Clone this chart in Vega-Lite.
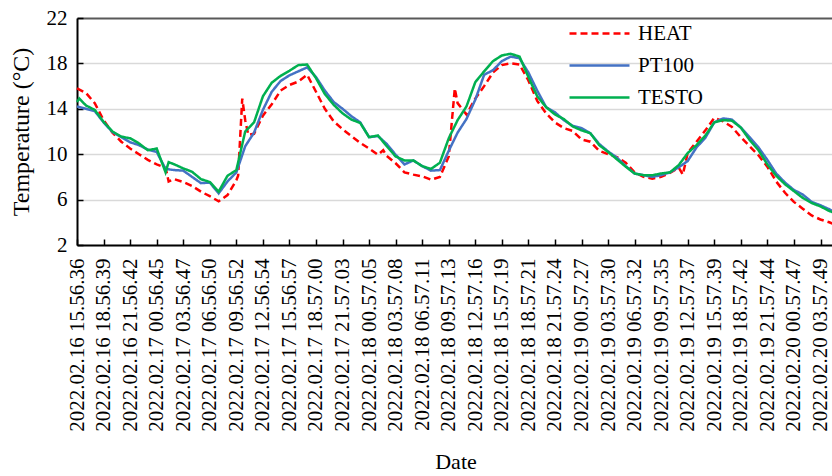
{
  "$schema": "https://vega.github.io/schema/vega-lite/v6.json",
  "width": 757,
  "height": 227,
  "autosize": {"type": "none"},
  "padding": {"left": 77, "top": 18, "right": 0, "bottom": 231},
  "background": "white",
  "config": {
    "view": {"stroke": null},
    "font": "Liberation Serif"
  },
  "data": {
    "values": [
      {"t": "2022-02-16T15:56:36", "HEAT": 15.8, "PT100": 14.2, "TESTO": 14.6},
      {"t": "2022-02-16T16:12:00", "TESTO": 14.9},
      {"t": "2022-02-16T16:57:00", "HEAT": 15.4, "PT100": 14.0, "TESTO": 14.3},
      {"t": "2022-02-16T17:57:00", "HEAT": 14.5, "PT100": 13.8, "TESTO": 13.9},
      {"t": "2022-02-16T18:57:00", "HEAT": 13.0, "PT100": 12.8, "TESTO": 12.85},
      {"t": "2022-02-16T19:57:00", "HEAT": 11.9, "PT100": 11.95, "TESTO": 12.0},
      {"t": "2022-02-16T20:57:00", "HEAT": 11.1, "PT100": 11.5, "TESTO": 11.55},
      {"t": "2022-02-16T21:57:00", "HEAT": 10.5, "PT100": 11.05, "TESTO": 11.4},
      {"t": "2022-02-16T22:57:00", "HEAT": 10.0, "PT100": 10.8, "TESTO": 10.95},
      {"t": "2022-02-16T23:57:00", "HEAT": 9.5, "PT100": 10.4, "TESTO": 10.35},
      {"t": "2022-02-17T00:57:00", "HEAT": 9.1, "PT100": 10.2, "TESTO": 10.5},
      {"t": "2022-02-17T01:57:00", "HEAT": 8.8, "PT100": 8.7, "TESTO": 8.4},
      {"t": "2022-02-17T02:18:00", "HEAT": 7.6, "TESTO": 9.3},
      {"t": "2022-02-17T02:57:00", "HEAT": 7.8, "PT100": 8.6, "TESTO": 9.1},
      {"t": "2022-02-17T03:57:00", "HEAT": 7.55, "PT100": 8.55, "TESTO": 8.75},
      {"t": "2022-02-17T04:57:00", "HEAT": 7.2, "PT100": 8.0, "TESTO": 8.45},
      {"t": "2022-02-17T05:57:00", "HEAT": 6.7, "PT100": 7.45, "TESTO": 7.8},
      {"t": "2022-02-17T06:57:00", "HEAT": 6.3, "PT100": 7.5, "TESTO": 7.55},
      {"t": "2022-02-17T07:57:00", "HEAT": 5.85, "PT100": 6.55, "TESTO": 6.7},
      {"t": "2022-02-17T08:57:00", "HEAT": 6.4, "PT100": 7.6, "TESTO": 8.1},
      {"t": "2022-02-17T09:57:00", "HEAT": 7.7, "PT100": 8.4, "TESTO": 8.6},
      {"t": "2022-02-17T10:09:00", "HEAT": 8.1},
      {"t": "2022-02-17T10:37:00", "HEAT": 14.9},
      {"t": "2022-02-17T10:57:00", "HEAT": 13.0, "PT100": 10.7, "TESTO": 12.0},
      {"t": "2022-02-17T11:18:00", "HEAT": 11.7},
      {"t": "2022-02-17T11:57:00", "HEAT": 11.8, "PT100": 11.9, "TESTO": 12.8},
      {"t": "2022-02-17T12:57:00", "HEAT": 13.4, "PT100": 13.9, "TESTO": 15.1},
      {"t": "2022-02-17T13:57:00", "HEAT": 14.4, "PT100": 15.5, "TESTO": 16.3},
      {"t": "2022-02-17T14:57:00", "HEAT": 15.6, "PT100": 16.45, "TESTO": 16.9},
      {"t": "2022-02-17T15:57:00", "HEAT": 16.1, "PT100": 16.95, "TESTO": 17.35},
      {"t": "2022-02-17T16:57:00", "HEAT": 16.4, "PT100": 17.3, "TESTO": 17.85},
      {"t": "2022-02-17T17:57:00", "HEAT": 17.0, "PT100": 17.65, "TESTO": 17.9},
      {"t": "2022-02-17T18:57:00", "HEAT": 15.5, "PT100": 16.8, "TESTO": 16.7},
      {"t": "2022-02-17T19:57:00", "HEAT": 14.0, "PT100": 15.6, "TESTO": 15.3},
      {"t": "2022-02-17T20:57:00", "HEAT": 12.9, "PT100": 14.6, "TESTO": 14.35},
      {"t": "2022-02-17T21:57:00", "HEAT": 12.2, "PT100": 14.0, "TESTO": 13.6},
      {"t": "2022-02-17T22:57:00", "HEAT": 11.6, "PT100": 13.35, "TESTO": 13.05},
      {"t": "2022-02-17T23:57:00", "HEAT": 11.0, "PT100": 12.8, "TESTO": 12.75},
      {"t": "2022-02-18T00:57:00", "HEAT": 10.5, "PT100": 11.5, "TESTO": 11.5},
      {"t": "2022-02-18T01:57:00", "HEAT": 9.95, "PT100": 11.6, "TESTO": 11.65},
      {"t": "2022-02-18T02:33:00", "HEAT": 10.35},
      {"t": "2022-02-18T02:57:00", "HEAT": 9.85, "PT100": 10.9, "TESTO": 10.7},
      {"t": "2022-02-18T03:57:00", "HEAT": 9.2, "PT100": 9.95, "TESTO": 9.8},
      {"t": "2022-02-18T04:57:00", "HEAT": 8.4, "PT100": 9.1, "TESTO": 9.45},
      {"t": "2022-02-18T05:57:00", "HEAT": 8.2, "PT100": 9.45, "TESTO": 9.45},
      {"t": "2022-02-18T06:57:00", "HEAT": 8.05, "PT100": 8.95, "TESTO": 8.95},
      {"t": "2022-02-18T07:57:00", "HEAT": 7.75, "PT100": 8.55, "TESTO": 8.7},
      {"t": "2022-02-18T08:57:00", "HEAT": 8.0, "PT100": 8.6, "TESTO": 9.25},
      {"t": "2022-02-18T09:57:00", "HEAT": 9.8, "PT100": 10.3, "TESTO": 11.4},
      {"t": "2022-02-18T10:38:00", "HEAT": 15.8},
      {"t": "2022-02-18T10:57:00", "HEAT": 14.5, "PT100": 11.9, "TESTO": 13.0},
      {"t": "2022-02-18T11:57:00", "HEAT": 13.5, "PT100": 13.1, "TESTO": 14.2},
      {"t": "2022-02-18T12:57:00", "HEAT": 14.9, "PT100": 14.8, "TESTO": 16.35},
      {"t": "2022-02-18T13:57:00", "HEAT": 16.0, "PT100": 17.0, "TESTO": 17.3},
      {"t": "2022-02-18T14:57:00", "HEAT": 17.2, "PT100": 17.4, "TESTO": 18.2},
      {"t": "2022-02-18T15:57:00", "HEAT": 17.85, "PT100": 18.2, "TESTO": 18.7},
      {"t": "2022-02-18T16:57:00", "HEAT": 18.0, "PT100": 18.6, "TESTO": 18.85},
      {"t": "2022-02-18T17:57:00", "HEAT": 17.9, "PT100": 18.45, "TESTO": 18.6},
      {"t": "2022-02-18T18:57:00", "HEAT": 16.5, "PT100": 17.2, "TESTO": 16.8},
      {"t": "2022-02-18T19:57:00", "HEAT": 14.7, "PT100": 15.6, "TESTO": 15.1},
      {"t": "2022-02-18T20:57:00", "HEAT": 13.6, "PT100": 14.15, "TESTO": 14.15},
      {"t": "2022-02-18T21:57:00", "HEAT": 12.8, "PT100": 13.7, "TESTO": 13.5},
      {"t": "2022-02-18T22:57:00", "HEAT": 12.3, "PT100": 13.0, "TESTO": 13.1},
      {"t": "2022-02-18T23:57:00", "HEAT": 12.05, "PT100": 12.5, "TESTO": 12.45},
      {"t": "2022-02-19T00:57:00", "HEAT": 11.3, "PT100": 12.3, "TESTO": 12.1},
      {"t": "2022-02-19T01:57:00", "HEAT": 11.1, "PT100": 11.85, "TESTO": 11.85},
      {"t": "2022-02-19T02:57:00", "HEAT": 10.3, "PT100": 10.9, "TESTO": 10.8},
      {"t": "2022-02-19T03:57:00", "HEAT": 10.0, "PT100": 10.25, "TESTO": 10.2},
      {"t": "2022-02-19T04:57:00", "HEAT": 9.75, "PT100": 9.7, "TESTO": 9.55},
      {"t": "2022-02-19T05:57:00", "HEAT": 9.25, "PT100": 8.95, "TESTO": 8.9},
      {"t": "2022-02-19T06:57:00", "HEAT": 8.4, "PT100": 8.3, "TESTO": 8.3},
      {"t": "2022-02-19T07:57:00", "HEAT": 8.0, "PT100": 8.15, "TESTO": 8.15},
      {"t": "2022-02-19T08:57:00", "HEAT": 7.85, "PT100": 8.0, "TESTO": 8.15},
      {"t": "2022-02-19T09:57:00", "HEAT": 8.0, "PT100": 8.15, "TESTO": 8.3},
      {"t": "2022-02-19T10:57:00", "HEAT": 8.35, "PT100": 8.4, "TESTO": 8.4},
      {"t": "2022-02-19T11:57:00", "HEAT": 8.8, "PT100": 8.85, "TESTO": 9.05},
      {"t": "2022-02-19T12:24:00", "HEAT": 8.2},
      {"t": "2022-02-19T12:57:00", "HEAT": 10.1, "PT100": 9.4, "TESTO": 10.1},
      {"t": "2022-02-19T13:57:00", "HEAT": 11.1, "PT100": 10.6, "TESTO": 10.8},
      {"t": "2022-02-19T14:57:00", "HEAT": 12.1, "PT100": 11.45, "TESTO": 11.65},
      {"t": "2022-02-19T15:57:00", "HEAT": 13.2, "PT100": 12.8, "TESTO": 12.8},
      {"t": "2022-02-19T16:57:00", "HEAT": 12.9, "PT100": 13.15, "TESTO": 13.0},
      {"t": "2022-02-19T17:57:00", "HEAT": 12.4, "PT100": 13.05, "TESTO": 12.95},
      {"t": "2022-02-19T18:57:00", "HEAT": 11.5, "PT100": 12.35, "TESTO": 12.35},
      {"t": "2022-02-19T19:57:00", "HEAT": 10.7, "PT100": 11.5, "TESTO": 11.25},
      {"t": "2022-02-19T20:57:00", "HEAT": 9.9, "PT100": 10.6, "TESTO": 10.35},
      {"t": "2022-02-19T21:57:00", "HEAT": 8.9, "PT100": 9.5, "TESTO": 9.1},
      {"t": "2022-02-19T22:57:00", "HEAT": 7.6, "PT100": 8.3, "TESTO": 8.1},
      {"t": "2022-02-19T23:57:00", "HEAT": 6.6, "PT100": 7.5, "TESTO": 7.35},
      {"t": "2022-02-20T00:57:00", "HEAT": 5.8, "PT100": 6.85, "TESTO": 6.75},
      {"t": "2022-02-20T01:57:00", "HEAT": 5.2, "PT100": 6.45, "TESTO": 6.15},
      {"t": "2022-02-20T02:57:00", "HEAT": 4.6, "PT100": 5.8, "TESTO": 5.7},
      {"t": "2022-02-20T03:57:00", "HEAT": 4.25, "PT100": 5.5, "TESTO": 5.4},
      {"t": "2022-02-20T04:57:00", "HEAT": 4.0, "PT100": 5.15, "TESTO": 5.0},
      {"t": "2022-02-20T05:27:00", "HEAT": 3.85, "PT100": 4.95, "TESTO": 4.85}
    ]
  },
  "transform": [
    {"fold": ["HEAT", "PT100", "TESTO"], "as": ["series", "temp"]},
    {"filter": "isValid(datum.temp)"}
  ],
  "mark": {"type": "line", "strokeWidth": 2.5, "interpolate": "linear"},
  "encoding": {
    "x": {
      "field": "t",
      "type": "temporal",
      "scale": {
        "domain": [
          {"year": 2022, "month": 2, "date": 16, "hours": 15, "minutes": 56, "seconds": 36},
          {"year": 2022, "month": 2, "date": 20, "hours": 5, "minutes": 29, "seconds": 0}
        ],
        "nice": false
      },
      "axis": {
        "title": "Date",
        "values": [
          {"year": 2022, "month": 2, "date": 16, "hours": 15, "minutes": 56, "seconds": 36},
          {"year": 2022, "month": 2, "date": 16, "hours": 18, "minutes": 56, "seconds": 39},
          {"year": 2022, "month": 2, "date": 16, "hours": 21, "minutes": 56, "seconds": 42},
          {"year": 2022, "month": 2, "date": 17, "hours": 0, "minutes": 56, "seconds": 45},
          {"year": 2022, "month": 2, "date": 17, "hours": 3, "minutes": 56, "seconds": 47},
          {"year": 2022, "month": 2, "date": 17, "hours": 6, "minutes": 56, "seconds": 50},
          {"year": 2022, "month": 2, "date": 17, "hours": 9, "minutes": 56, "seconds": 52},
          {"year": 2022, "month": 2, "date": 17, "hours": 12, "minutes": 56, "seconds": 54},
          {"year": 2022, "month": 2, "date": 17, "hours": 15, "minutes": 56, "seconds": 57},
          {"year": 2022, "month": 2, "date": 17, "hours": 18, "minutes": 57, "seconds": 0},
          {"year": 2022, "month": 2, "date": 17, "hours": 21, "minutes": 57, "seconds": 3},
          {"year": 2022, "month": 2, "date": 18, "hours": 0, "minutes": 57, "seconds": 5},
          {"year": 2022, "month": 2, "date": 18, "hours": 3, "minutes": 57, "seconds": 8},
          {"year": 2022, "month": 2, "date": 18, "hours": 6, "minutes": 57, "seconds": 11},
          {"year": 2022, "month": 2, "date": 18, "hours": 9, "minutes": 57, "seconds": 13},
          {"year": 2022, "month": 2, "date": 18, "hours": 12, "minutes": 57, "seconds": 16},
          {"year": 2022, "month": 2, "date": 18, "hours": 15, "minutes": 57, "seconds": 19},
          {"year": 2022, "month": 2, "date": 18, "hours": 18, "minutes": 57, "seconds": 21},
          {"year": 2022, "month": 2, "date": 18, "hours": 21, "minutes": 57, "seconds": 24},
          {"year": 2022, "month": 2, "date": 19, "hours": 0, "minutes": 57, "seconds": 27},
          {"year": 2022, "month": 2, "date": 19, "hours": 3, "minutes": 57, "seconds": 30},
          {"year": 2022, "month": 2, "date": 19, "hours": 6, "minutes": 57, "seconds": 32},
          {"year": 2022, "month": 2, "date": 19, "hours": 9, "minutes": 57, "seconds": 35},
          {"year": 2022, "month": 2, "date": 19, "hours": 12, "minutes": 57, "seconds": 37},
          {"year": 2022, "month": 2, "date": 19, "hours": 15, "minutes": 57, "seconds": 39},
          {"year": 2022, "month": 2, "date": 19, "hours": 18, "minutes": 57, "seconds": 42},
          {"year": 2022, "month": 2, "date": 19, "hours": 21, "minutes": 57, "seconds": 44},
          {"year": 2022, "month": 2, "date": 20, "hours": 0, "minutes": 57, "seconds": 47},
          {"year": 2022, "month": 2, "date": 20, "hours": 3, "minutes": 57, "seconds": 49}
        ],
        "format": "%Y.%m.%d %H.%M.%S",
        "labelAngle": -90,
        "labelFont": "Liberation Serif",
        "labelFontSize": 21,
        "labelColor": "black",
        "labelOverlap": false,
        "labelFlush": false,
        "labelBound": false,
        "labelPadding": 19,
        "domainColor": "black",
        "domainWidth": 2,
        "ticks": true,
        "tickColor": "black",
        "tickWidth": 1.5,
        "tickSize": -6,
        "grid": false,
        "titleFont": "Liberation Serif",
        "titleFontSize": 22,
        "titleFontWeight": "normal",
        "titleColor": "black",
        "titlePadding": 20
      }
    },
    "y": {
      "field": "temp",
      "type": "quantitative",
      "scale": {"domain": [2, 22], "nice": false, "zero": false},
      "axis": {
        "title": "Temperature (°C)",
        "values": [2, 6, 10, 14, 18, 22],
        "labelFont": "Liberation Serif",
        "labelFontSize": 21,
        "labelColor": "black",
        "labelPadding": 16,
        "domainColor": "black",
        "domainWidth": 2,
        "tickColor": "black",
        "tickWidth": 1.5,
        "tickSize": -6,
        "grid": true,
        "gridColor": {"condition": {"test": "datum.value == 22", "value": "#595959"}, "value": "#d9d9d9"},
        "gridWidth": {"condition": {"test": "datum.value == 22", "value": 2}, "value": 1.5},
        "titleFont": "Liberation Serif",
        "titleFontSize": 24,
        "titleFontWeight": "normal",
        "titleColor": "black",
        "titlePadding": 13
      }
    },
    "color": {
      "field": "series",
      "type": "nominal",
      "scale": {"domain": ["HEAT", "PT100", "TESTO"], "range": ["#FF0000", "#4472C4", "#00B050"]},
      "legend": {
        "title": null,
        "orient": "none",
        "legendX": 511,
        "legendY": 4,
        "padding": 0,
        "symbolType": "M-3,0H3",
        "symbolSize": 400,
        "symbolStrokeWidth": 2.5,
        "labelFont": "Liberation Serif",
        "labelFontSize": 21,
        "labelColor": "black",
        "labelOffset": 27,
        "rowPadding": 10
      }
    },
    "strokeDash": {
      "field": "series",
      "type": "nominal",
      "scale": {"domain": ["HEAT", "PT100", "TESTO"], "range": [[7, 4], [1, 0], [1, 0]]},
      "legend": {
        "title": null,
        "orient": "none",
        "legendX": 511,
        "legendY": 4,
        "padding": 0,
        "symbolType": "M-3,0H3",
        "symbolSize": 400,
        "symbolStrokeWidth": 2.5,
        "labelFont": "Liberation Serif",
        "labelFontSize": 21,
        "labelColor": "black",
        "labelOffset": 27,
        "rowPadding": 10
      }
    }
  }
}
